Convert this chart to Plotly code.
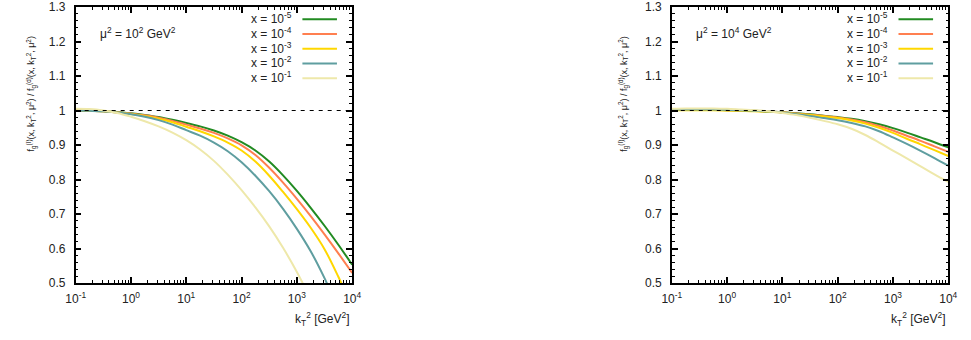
import plotly.graph_objects as go

# ---- data ----
log_kt2 = [-1, -0.75, -0.5, -0.25, 0, 0.25, 0.5, 0.75, 1, 1.25, 1.5, 1.75,
           2, 2.25, 2.5, 2.75, 3, 3.25, 3.5, 3.75, 4]
kt2 = [10 ** v for v in log_kt2]

x_labels = ["x = 10<sup>-5</sup>", "x = 10<sup>-4</sup>", "x = 10<sup>-3</sup>",
            "x = 10<sup>-2</sup>", "x = 10<sup>-1</sup>"]
colors = ["#228b22", "#ff7f50", "#ffd700", "#5f9ea0", "#eee8aa"]

# mu^2 = 10^2 GeV^2
left_green = [1.000, 0.999, 0.998, 0.996, 0.992, 0.987, 0.981, 0.973, 0.964, 0.954, 0.942,
              0.927, 0.908, 0.884, 0.852, 0.812, 0.767, 0.718, 0.666, 0.611, 0.553]
left_orange = [1.000, 0.999, 0.998, 0.995, 0.991, 0.986, 0.979, 0.970, 0.959, 0.948, 0.935,
               0.919, 0.899, 0.871, 0.834, 0.791, 0.744, 0.694, 0.641, 0.586, 0.529]
left_yellow = [1.000, 0.999, 0.998, 0.994, 0.990, 0.984, 0.976, 0.966, 0.953, 0.940, 0.925,
               0.907, 0.884, 0.852, 0.811, 0.764, 0.714, 0.660, 0.598, 0.518, 0.430]
left_teal = [0.999, 0.999, 0.998, 0.994, 0.989, 0.982, 0.972, 0.959, 0.943, 0.927, 0.907,
             0.882, 0.850, 0.811, 0.766, 0.715, 0.657, 0.592, 0.514, 0.424, 0.330]
left_beige = [1.005, 1.004, 1.000, 0.993, 0.982, 0.969, 0.954, 0.936, 0.914, 0.887, 0.854,
              0.814, 0.769, 0.719, 0.664, 0.602, 0.532, 0.452, 0.360, 0.260, 0.160]

# mu^2 = 10^4 GeV^2
right_green = [1.002, 1.002, 1.002, 1.002, 1.001, 1.000, 0.999, 0.997, 0.995, 0.992, 0.989,
               0.985, 0.981, 0.976, 0.969, 0.960, 0.949, 0.936, 0.922, 0.908, 0.893]
right_orange = [1.002, 1.002, 1.002, 1.002, 1.001, 1.000, 0.999, 0.997, 0.995, 0.991, 0.988,
                0.984, 0.980, 0.974, 0.966, 0.955, 0.942, 0.927, 0.912, 0.896, 0.880]
right_yellow = [1.001, 1.001, 1.001, 1.001, 1.000, 0.999, 0.998, 0.996, 0.994, 0.990, 0.987,
                0.983, 0.978, 0.971, 0.962, 0.950, 0.935, 0.918, 0.902, 0.885, 0.868]
right_teal = [1.003, 1.003, 1.003, 1.003, 1.002, 1.001, 0.999, 0.997, 0.994, 0.989, 0.984,
              0.978, 0.972, 0.964, 0.954, 0.940, 0.922, 0.903, 0.883, 0.862, 0.840]
right_beige = [1.005, 1.006, 1.006, 1.006, 1.005, 1.003, 1.001, 0.998, 0.993, 0.987, 0.979,
               0.970, 0.960, 0.947, 0.929, 0.907, 0.884, 0.861, 0.838, 0.815, 0.793]

panels = [
    ("μ<sup>2</sup> = 10<sup>2</sup> GeV<sup>2</sup>",
     [left_green, left_orange, left_yellow, left_teal, left_beige]),
    ("μ<sup>2</sup> = 10<sup>4</sup> GeV<sup>2</sup>",
     [right_green, right_orange, right_yellow, right_teal, right_beige]),
]

x_tickvals = [0.1, 1, 10, 100, 1000, 10000]
x_ticktext = ["10<sup>-1</sup>", "10<sup>0</sup>", "10<sup>1</sup>",
              "10<sup>2</sup>", "10<sup>3</sup>", "10<sup>4</sup>"]
x_minor = [m * d for d in [0.1, 1, 10, 100, 1000] for m in range(2, 10)]
y_tickvals = [0.5, 0.6, 0.7, 0.8, 0.9, 1.0, 1.1, 1.2, 1.3]
y_ticktext = ["0.5", "0.6", "0.7", "0.8", "0.9", "1", "1.1", "1.2", "1.3"]
y_minor = [round(0.5 + 0.02 * i, 2) for i in range(41)]

ytitle = ("f<sub>g</sub><sup>(I)</sup>(x, k<sub>T</sub><sup>2</sup>, μ<sup>2</sup>) / "
          "f<sub>g</sub><sup>(d)</sup>(x, k<sub>T</sub><sup>2</sup>, μ<sup>2</sup>)")

W, H = 971, 340
TOP, BOT = 4, 57
PH = H - TOP - BOT
domains = [[67 / W, 349 / W], [675 / W, 957 / W]]
FONT = "Liberation Sans, Arial, sans-serif"
TXT = "#222"

fig = go.Figure()
shapes = []
annotations = []

for i, (mu_text, series) in enumerate(panels):
    xa = "x" if i == 0 else "x2"
    ya = "y" if i == 0 else "y2"
    axsuf = "" if i == 0 else "2"
    for vals, col, name in zip(series, colors, x_labels):
        fig.add_trace(go.Scatter(
            x=kt2, y=vals, mode="lines", name=name, showlegend=False,
            line=dict(color=col, width=2, shape="spline", smoothing=1.0),
            xaxis=xa, yaxis=ya, cliponaxis=True))
    axis_common = dict(showline=True, linecolor="black", linewidth=1.5, mirror="ticks",
                       ticks="inside", tickcolor="black", showgrid=False, zeroline=False,
                       ticklabeloverflow="allow",
                       tickfont=dict(family=FONT, size=12, color=TXT))
    fig.update_layout(**{
        "xaxis" + axsuf: dict(axis_common, type="log", range=[-1, 4], domain=domains[i],
                              anchor=ya, tickmode="array", tickvals=x_tickvals,
                              ticktext=x_ticktext, ticklen=6, tickwidth=1.5,
                              ticklabelstandoff=4,
                              minor=dict(tickmode="array", tickvals=x_minor, ticks="inside",
                                         ticklen=3, tickcolor="black", tickwidth=1,
                                         showgrid=False)),
        "yaxis" + axsuf: dict(axis_common, range=[0.5, 1.3], domain=[0, 1], anchor=xa,
                              tickmode="array", tickvals=y_tickvals, ticktext=y_ticktext,
                              ticklen=6, tickwidth=1.5, ticklabelstandoff=6,
                              minor=dict(tickmode="array", tickvals=y_minor, ticks="inside",
                                         ticklen=3, tickcolor="black", tickwidth=1,
                                         showgrid=False)),
    })
    # dashed reference line at 1
    shapes.append(dict(type="line", xref=xa + " domain", yref=ya, x0=0, x1=1, y0=1, y1=1,
                       line=dict(color="black", width=1, dash="4px,5px")))
    # mu^2 label
    annotations.append(dict(xref=xa + " domain", yref=ya + " domain", x=0.08, y=0.905,
                            xanchor="left", yanchor="middle", showarrow=False, text=mu_text,
                            font=dict(family=FONT, size=12, color=TXT)))
    # legend
    for j, (name, col) in enumerate(zip(x_labels, colors)):
        yy = 0.96 - j * 0.0535
        annotations.append(dict(xref=xa + " domain", yref=ya + " domain", x=0.79, y=yy,
                                xanchor="right", yanchor="middle", showarrow=False, text=name,
                                font=dict(family=FONT, size=12, color=TXT)))
        shapes.append(dict(type="line", xref=xa + " domain", yref=ya + " domain",
                           x0=0.82, x1=0.945, y0=yy - 0.004, y1=yy - 0.004,
                           line=dict(color=col, width=2)))
    # x-axis title
    annotations.append(dict(xref=xa + " domain", yref="paper", x=1.0, y=-0.09,
                            xanchor="right", yanchor="top", showarrow=False,
                            text="k<sub>T</sub><sup>2</sup> [GeV<sup>2</sup>]",
                            font=dict(family=FONT, size=12, color=TXT)))
    # y-axis title
    annotations.append(dict(xref="paper", yref="paper",
                            x=(22 if i == 0 else 626) / W, y=(H - BOT - 152) / PH,
                            xanchor="center", yanchor="bottom", textangle=-90, showarrow=False,
                            text=ytitle, font=dict(family=FONT, size=9, color=TXT)))

fig.update_layout(width=W, height=H, margin=dict(l=0, r=0, t=TOP, b=BOT),
                  plot_bgcolor="white", paper_bgcolor="white",
                  shapes=shapes, annotations=annotations, showlegend=False)

fig.write_html("out.html")
